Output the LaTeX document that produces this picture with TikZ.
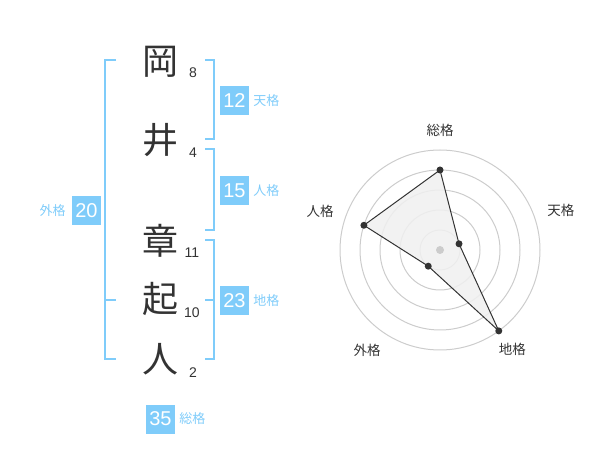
\documentclass[tikz,border=0pt]{standalone}
\usepackage{fontspec}
\setmainfont{Liberation Sans}
\newfontfamily\jp{Noto Sans CJK JP}
\usetikzlibrary{positioning}
\definecolor{kakublue}{RGB}{127,204,250}
\definecolor{moji}{RGB}{51,51,51}
\definecolor{ring}{RGB}{204,204,204}
\definecolor{radarfill}{RGB}{240,240,240}
\begin{document}
\begin{tikzpicture}[x=1pt,y=-1pt,
    kanji/.style={text=moji,inner sep=0pt,font=\jp\fontsize{36}{36}\selectfont},
    kakusu/.style={text=moji,inner sep=0pt,font=\fontsize{14}{14}\selectfont},
    kakubox/.style={fill=kakublue,text=white,minimum size=29pt,inner sep=0pt,font=\fontsize{20}{20}\selectfont},
    kakuname/.style={text=kakublue,inner sep=0pt,font=\jp\fontsize{13}{13}\selectfont},
    bracket/.style={draw=kakublue,line width=2pt},
    radarname/.style={text=moji,inner sep=0pt,font=\jp\fontsize{13.5}{13.5}\selectfont}]
        \useasboundingbox (0,0) rectangle (600,470);
        % 名前
        \node[kanji] (k1) at (160,62) {岡};
        \node[kanji] (k2) at (160,140) {井};
        \node[kanji] (k3) at (160,241) {章};
        \node[kanji] (k4) at (160,299) {起};
        \node[kanji] (k5) at (160,359) {人};
        % 画数
        \node[kakusu] (n1) at (193,73) {8};
        \node[kakusu] (n2) at (193,153) {4};
        \node[kakusu] (n3) at (192,253) {11};
        \node[kakusu] (n4) at (192,313) {10};
        \node[kakusu] (n5) at (193,373) {2};
        % かっこ
        \draw[bracket] (116,60)--(105,60)--(105,359)--(116,359) (105,300)--(116,300);
        \draw[bracket] (205,60)--(214,60)--(214,139)--(205,139);
        \draw[bracket] (205,149)--(214,149)--(214,230)--(205,230);
        \draw[bracket] (205,240)--(214,240)--(214,359)--(205,359) (205,300)--(214,300);
        % 各格
        \node[kakubox] (ten) at (234.5,100.5) {12};
        \node[kakuname, right=4pt of ten] (tenl) {天格};
        \node[kakubox] (jin) at (234.5,190.5) {15};
        \node[kakuname, right=4pt of jin] (jinl) {人格};
        \node[kakubox] (gai) at (86.5,210.5) {20};
        \node[kakuname, left=6pt of gai] (gail) {外格};
        \node[kakubox] (chi) at (234.5,300.5) {23};
        \node[kakuname, right=4pt of chi] (chil) {地格};
        \node[kakubox] (sou) at (160.5,419) {35};
        \node[kakuname, right=4pt of sou] (soul) {総格};
        % レーダー
        \begin{scope}[shift={(440,250)},yscale=-1]
          \foreach \r in {20,40,...,100}
            \draw[ring, line width=1pt] (0,0) circle[radius=\r];
          \coordinate (rsou) at (90:80);
          \coordinate (rten) at (18:20);
          \coordinate (rchi) at (-54:100);
          \coordinate (rgai) at (-126:20);
          \coordinate (rjin) at (162:80);
          \filldraw[fill=radarfill, fill opacity=0.85, draw=moji, draw opacity=1, line width=1pt] (rsou)--(rten)--(rchi)--(rgai)--(rjin)--cycle;
          \foreach \p in {rsou,rten,rchi,rgai,rjin}
            \fill[moji] (\p) circle[radius=3.5];
          \fill[ring] (0,0) circle[radius=4];
          \node[radarname] (lsou) at (90:120) {総格};
          \node[radarname] (lten) at (18:127) {天格};
          \node[radarname] (lchi) at (-54:123) {地格};
          \node[radarname] (lgai) at (-126:124) {外格};
          \node[radarname] (ljin) at (162:126) {人格};
        \end{scope}
\end{tikzpicture}
\end{document}
